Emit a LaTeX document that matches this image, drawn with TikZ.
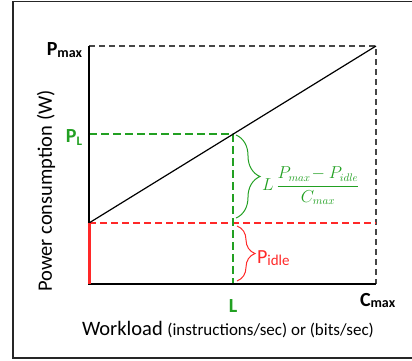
\documentclass[tikz,border=0pt]{standalone}
\usepackage{fontspec}
\setmainfont{Carlito}
\usetikzlibrary{decorations.pathreplacing}
\definecolor{grn}{RGB}{34,160,34}
\definecolor{rd}{RGB}{255,40,40}
\definecolor{dgray}{RGB}{70,70,70}
\begin{document}
\begin{tikzpicture}[x=1pt,y=-1pt,
  axisline/.style={line width=1.3pt,black},
  graydash/.style={line width=1.1pt,dgray,dash pattern=on 6pt off 4pt},
  greendash/.style={line width=1.3pt,grn,dash pattern=on 8pt off 4pt},
  reddash/.style={line width=1.2pt,draw=rd,dash pattern=on 7pt off 4pt},
  gbrace/.style={grn,line width=1pt,decorate,decoration={brace,amplitude=24pt}},
  rbrace/.style={rd,line width=1pt,decorate,decoration={brace,amplitude=18pt}},
  lbl/.style={inner sep=0pt,outer sep=0pt}]
\useasboundingbox (0,0) rectangle (412,360);
\draw[line width=1.5pt,black!85] (13,1.5) rectangle (420,358);
\coordinate (O) at (89,284);
\coordinate (Ytop) at (89,46);
\coordinate (Xend) at (376,284);
\coordinate (TR) at (376,46);
\coordinate (Pi) at (89,223);
\coordinate (Pi2) at (376,223);
\coordinate (PL) at (89,134);
\coordinate (LP) at (233,134);
\coordinate (Lx) at (233,284);
\coordinate (gb1) at (236,135);
\coordinate (gb2) at (236,218);
\coordinate (rb1) at (237,226);
\coordinate (rb2) at (237,281);
\draw[graydash] (Ytop) -- (TR) -- (Xend);
\draw[reddash] (Pi) -- (Pi2);
\draw[greendash] (PL) -- (LP) -- (Lx);
\draw[axisline] (Ytop) -- (O) -- (Xend);
\draw[line width=1.2pt,black] (Pi) -- (TR);
\draw[rd,line width=3pt] (O) -- (Pi);
\draw[gbrace] (gb1) -- (gb2);
\draw[rbrace] (rb1) -- (rb2);
\node[lbl,anchor=west,text=grn] (frac) at (262,186) {\fontsize{16}{18}\selectfont$\displaystyle L\,\frac{P_{max}\!-P_{idle}}{C_{max}}$};
\node[lbl,anchor=base west,text=rd] (pidle) at (257,263) {\fontsize{20}{22}\selectfont P\fontsize{15}{16}\selectfont\raisebox{-2pt}{idle}};
\node[lbl,anchor=base east] (pmax) at (82,55) {\fontsize{20}{22}\selectfont\bfseries P\fontsize{14}{16}\selectfont\raisebox{-2pt}{max}};
\node[lbl,anchor=base east,text=grn] (pl) at (82,142) {\fontsize{20}{22}\selectfont\bfseries P\fontsize{13}{16}\selectfont\raisebox{-3pt}{L}};
\node[lbl,anchor=base,text=grn] (lx) at (233,312) {\fontsize{20}{22}\selectfont\bfseries L};
\node[lbl,anchor=base west] (cmax) at (360,306) {\fontsize{20}{22}\selectfont\bfseries C\fontsize{14}{16}\selectfont\raisebox{-1pt}{max}};
\node[lbl,rotate=90] (ylab) at (46,191) {\fontsize{20.5}{22}\selectfont Power consumption (W)};
\node[lbl,anchor=base west] (xlab) at (82,335) {\fontsize{20.5}{22}\selectfont Workload {\fontsize{17}{20}\selectfont (instructions/sec) or (bits/sec)}};
\end{tikzpicture}
\end{document}
